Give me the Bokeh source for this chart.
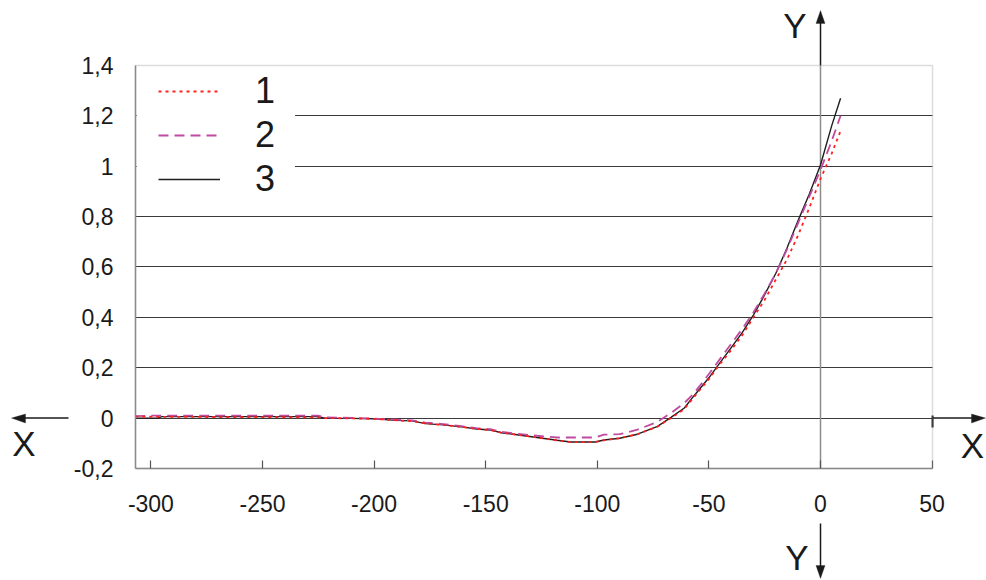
from bokeh.plotting import figure
from bokeh.models import (Range1d, FixedTicker, CustomJSTickFormatter, Arrow,
                          Label, PolyAnnotation, BoxAnnotation, Grid)
from bokeh.embed import file_html
from bokeh.resources import INLINE

# ---- data ----
x_vals = [-307, -297, -295, -260, -225, -222, -210, -200, -190, -183,
          -177, -169, -160, -154, -148, -143, -136, -127, -118, -112,
          -101, -97, -90, -82, -73, -67, -61, -57, -50, -45,
          -40, -35, -30, -25, -20, -15, -10, -5, 0, 5, 9]

curve1 = [0.006, 0.005, 0.005, 0.004, 0.003, 0.0, -0.001, -0.003, -0.009, -0.012,
          -0.021, -0.027, -0.036, -0.043, -0.047, -0.058, -0.066, -0.077, -0.089, -0.095,
          -0.095, -0.088, -0.080, -0.064, -0.034, 0.000, 0.036, 0.080, 0.155, 0.215,
          0.270, 0.330, 0.400, 0.470, 0.550, 0.630, 0.727, 0.835, 0.950, 1.050, 1.140]

curve2 = [0.008, 0.010, 0.010, 0.010, 0.010, 0.003, 0.001, -0.002, -0.006, -0.009,
          -0.018, -0.024, -0.033, -0.040, -0.044, -0.054, -0.062, -0.070, -0.077, -0.077,
          -0.077, -0.066, -0.064, -0.046, -0.015, 0.020, 0.060, 0.095, 0.175, 0.235,
          0.295, 0.355, 0.420, 0.495, 0.575, 0.670, 0.775, 0.880, 0.985, 1.100, 1.200]

curve3 = [0.0, 0.0, 0.006, 0.006, 0.006, 0.0, -0.001, -0.003, -0.009, -0.011,
          -0.022, -0.027, -0.036, -0.043, -0.047, -0.058, -0.066, -0.077, -0.088, -0.095,
          -0.095, -0.087, -0.080, -0.064, -0.033, 0.003, 0.040, 0.085, 0.160, 0.220,
          0.280, 0.340, 0.410, 0.490, 0.575, 0.675, 0.785, 0.890, 1.005, 1.160, 1.270]

legend_labels = ["1", "2", "3"]
x_ticks = [-300, -250, -200, -150, -100, -50, 0, 50]
y_ticks = [-0.2, 0, 0.2, 0.4, 0.6, 0.8, 1.0, 1.2, 1.4]
grid_ticks = [0, 0.2, 0.4, 0.6, 0.8, 1.0, 1.2]
axis_x_name = "X"
axis_y_name = "Y"

FONT = "Liberation Sans"
W, H = 986, 580
# plot box (data units)
x_lo, x_hi = -306.9, 50.2
y_lo, y_hi = -0.2, 1.4
# pixel scale of the reference
PX0, KX = 820.0, 2.232      # pixel column of x = 0, pixels per x unit
PY0, KY = 417.6, 251.9      # pixel row of y = 0, pixels per y unit


def px2x(px):
    return (px - PX0) / KX


def py2y(py):
    return (PY0 - py) / KY


p = figure(width=W, height=H,
           x_range=Range1d(px2x(0), px2x(W)), y_range=Range1d(py2y(H), py2y(0)),
           output_backend="svg", toolbar_location=None,
           min_border_left=0, min_border_right=0, min_border_top=0, min_border_bottom=0)
p.background_fill_color = "white"
p.border_fill_color = "white"
p.outline_line_color = None

GRAY = "#8a8a8a"
DARK = "#1a1a1a"

# grid
p.xgrid.visible = False
p.ygrid.ticker = FixedTicker(ticks=grid_ticks)
p.ygrid.grid_line_color = "#3a3a3a"
p.ygrid.grid_line_width = 1.2
p.ygrid.bounds = (y_lo, y_hi)
has_cross = "cross_bounds" in Grid.properties()
if has_cross:
    p.ygrid.cross_bounds = (x_lo, x_hi)
else:
    p.ygrid.visible = False
    p.segment(x0=[x_lo] * len(grid_ticks), x1=[x_hi] * len(grid_ticks),
              y0=grid_ticks, y1=grid_ticks, line_color="#3a3a3a", line_width=1.2,
              level="underlay")

# x axis, fixed at the bottom of the plot box
p.xaxis.fixed_location = y_lo
p.xaxis.bounds = (x_lo, x_hi)
p.xaxis.ticker = FixedTicker(ticks=x_ticks)
p.xaxis.formatter = CustomJSTickFormatter(code="return tick.toFixed(0);")
p.xaxis.major_tick_in = 8
p.xaxis.major_tick_out = 0
p.xaxis.minor_tick_line_color = None
p.xaxis.axis_line_color = GRAY
p.xaxis.axis_line_width = 1.5
p.xaxis.major_tick_line_color = "#555555"
p.xaxis.major_tick_line_width = 1.2
p.xaxis.major_label_text_font = FONT
p.xaxis.major_label_text_font_size = "23px"
p.xaxis.major_label_text_color = DARK
p.xaxis.major_label_standoff = 27

# y axis, fixed at the left of the plot box
p.yaxis.fixed_location = x_lo
p.yaxis.bounds = (y_lo, y_hi)
p.yaxis.ticker = FixedTicker(ticks=y_ticks)
p.yaxis.formatter = CustomJSTickFormatter(code="""
const v = Math.round(tick * 10) / 10;
return v.toString().replace('.', ',');
""")
p.yaxis.major_tick_in = 0
p.yaxis.major_tick_out = 0
p.yaxis.minor_tick_line_color = None
p.yaxis.axis_line_color = GRAY
p.yaxis.axis_line_width = 1.5
p.yaxis.major_label_text_font = FONT
p.yaxis.major_label_text_font_size = "23px"
p.yaxis.major_label_text_color = DARK
p.yaxis.major_label_standoff = 22

# gray x = 0 line inside the plot box
p.add_layout(Arrow(start=None, end=None, x_start=0, y_start=y_lo, x_end=0, y_end=y_hi,
                   line_color="#8c8c8c", line_width=1.5, level="underlay"))

# white patch behind the legend (hides grid lines there)
p.add_layout(BoxAnnotation(left=x_lo + 0.5, right=px2x(158), top=py2y(69), bottom=py2y(201),
                           fill_color="white", fill_alpha=1.0, line_color=None,
                           level="underlay"))

r3 = p.line(x_vals, curve3, line_color="#1e1e1e", line_width=1.4, legend_label=legend_labels[2])
r2 = p.line(x_vals, curve2, line_color="#c04a9f", line_width=1.8, line_dash="10 6",
            legend_label=legend_labels[1])
r1 = p.line(x_vals, curve1, line_color="#ff2020", line_width=1.8, line_dash="3 4",
            legend_label=legend_labels[0])

leg = p.legend[0]
leg.items = [leg.items[2], leg.items[1], leg.items[0]]
leg.location = (158, H - 201)
leg.padding = 0
leg.margin = 0
leg.spacing = 0
leg.glyph_width = 62
leg.glyph_height = 44
leg.label_height = 44
leg.label_width = 40
leg.label_standoff = 35
leg.label_text_font = FONT
leg.label_text_font_size = "36px"
leg.label_text_color = DARK
leg.border_line_color = None
leg.background_fill_color = "white"
leg.background_fill_alpha = 1.0

# plot box outline
p.add_layout(BoxAnnotation(left=x_lo, right=x_hi, top=y_hi, bottom=y_lo,
                           fill_color=None, fill_alpha=0, line_color=GRAY, line_width=1.5,
                           level="overlay"))

# axis arrows outside the plot box: shafts + filled narrow heads
for (xs0, ys0, xs1, ys1) in [(0, y_hi, 0, py2y(22)), (0, py2y(523), 0, py2y(566)),
                             (x_hi, 0, px2x(972), 0), (px2x(68), 0, px2x(24), 0)]:
    p.add_layout(Arrow(start=None, end=None, x_start=xs0, y_start=ys0, x_end=xs1, y_end=ys1,
                       line_color=DARK, line_width=1.5))

heads = [([0, px2x(815.5), px2x(824.5)], [py2y(10), py2y(23), py2y(23)]),
         ([0, px2x(815.5), px2x(824.5)], [py2y(578), py2y(565), py2y(565)]),
         ([px2x(985), px2x(971), px2x(971)], [0, py2y(413.5), py2y(422.5)]),
         ([px2x(11), px2x(25), px2x(25)], [0, py2y(413.5), py2y(422.5)])]
for hx, hy in heads:
    p.add_layout(PolyAnnotation(xs=hx, ys=hy, fill_color=DARK, fill_alpha=1.0,
                                line_color=DARK, line_width=1))

# small tick on the right edge at y = 0
p.add_layout(Arrow(start=None, end=None, x_start=x_hi, y_start=py2y(415), x_end=x_hi,
                   y_end=py2y(427), line_color=DARK, line_width=2))

for (lx, ly, t) in [(px2x(794.5), py2y(25), axis_y_name), (px2x(796.5), py2y(557), axis_y_name),
                    (px2x(23.5), py2y(443), axis_x_name), (px2x(972), py2y(445), axis_x_name)]:
    p.add_layout(Label(x=lx, y=ly, text=t, text_font=FONT, text_font_size="35px",
                       text_align="center", text_baseline="alphabetic", text_color=DARK))

open("out.html", "w").write(file_html(p, INLINE))
